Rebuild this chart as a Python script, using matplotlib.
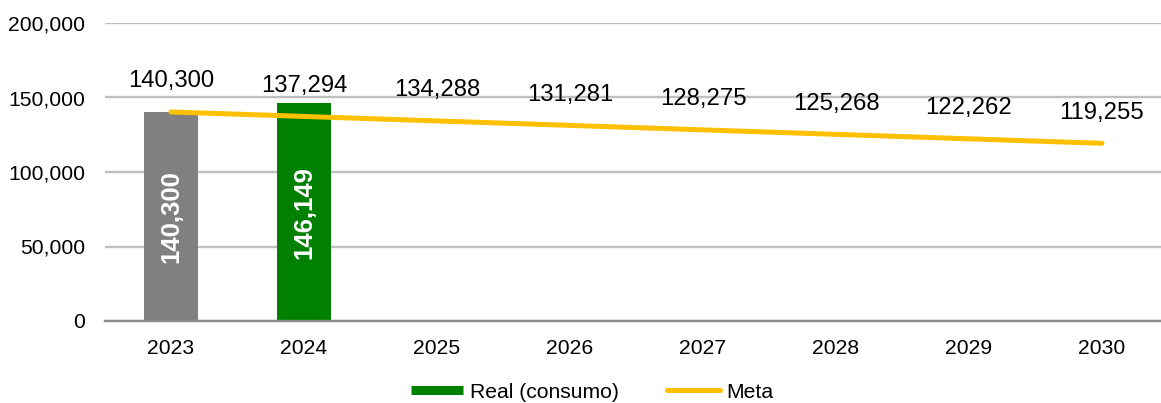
import matplotlib.pyplot as plt
from matplotlib.lines import Line2D

plt.rcParams['font.family'] = ['Liberation Sans', 'DejaVu Sans']

# data
years = ['2023', '2024', '2025', '2026', '2027', '2028', '2029', '2030']
real = [140300, 146149]
real_colors = ['#808080', '#008000']
meta = [140300, 137294, 134288, 131281, 128275, 125268, 122262, 119255]
y_ticks = [0, 50000, 100000, 150000, 200000]

fig = plt.figure(figsize=(11.61, 4.03), dpi=100)
ax = fig.add_axes([104.5 / 1161, 82 / 403, 1064 / 1161, 298 / 403])

x = list(range(len(years)))

# bars with rotated labels inside
bars = ax.bar(x[:len(real)], real, width=0.41, color=real_colors, zorder=2)
for b, v in zip(bars, real):
    ax.text(b.get_x() + b.get_width() / 2, v / 2, f'{v:,}', rotation=90,
            ha='center', va='center', color='white', fontsize=18.5,
            fontweight='bold', zorder=3)

# meta line
ax.plot(x, meta, color='#FFC000', lw=3.6, solid_capstyle='round', zorder=4)
for xi, v in zip(x, meta):
    ax.annotate(f'{v:,}', (xi, v), xytext=(0, 22), textcoords='offset points',
                ha='center', va='center', fontsize=17.2, color='black')

ax.set_xlim(-0.5, len(years) - 0.5)
ax.set_ylim(0, 200000)
ax.set_yticks(y_ticks)
ax.set_yticklabels([f'{t:,}' for t in y_ticks])
ax.set_xticks(x)
ax.set_xticklabels(years)
ax.tick_params(axis='y', length=0, pad=14, labelsize=15.2)
ax.tick_params(axis='x', length=0, pad=13, labelsize=15.2)
ax.yaxis.grid(True, color='#BFBFBF', lw=1.7, zorder=0)
ax.set_axisbelow(True)
for s in ['left', 'right', 'top']:
    ax.spines[s].set_visible(False)
ax.spines['bottom'].set_color('#8C8C8C')
ax.spines['bottom'].set_linewidth(1.7)

handles = [
    Line2D([0], [0], color='#008000', lw=6.5, solid_capstyle='butt'),
    Line2D([0], [0], color='#FFC000', lw=3.6, solid_capstyle='round'),
]
fig.legend(handles, ['Real (consumo)', 'Meta'], loc='center', ncol=2,
           bbox_to_anchor=(592 / 1161, 1 - 392 / 403), frameon=False,
           fontsize=15.2, handlelength=2.5, handletextpad=0.3,
           columnspacing=2.3, borderpad=0)

fig.savefig('out.png', dpi=100)
